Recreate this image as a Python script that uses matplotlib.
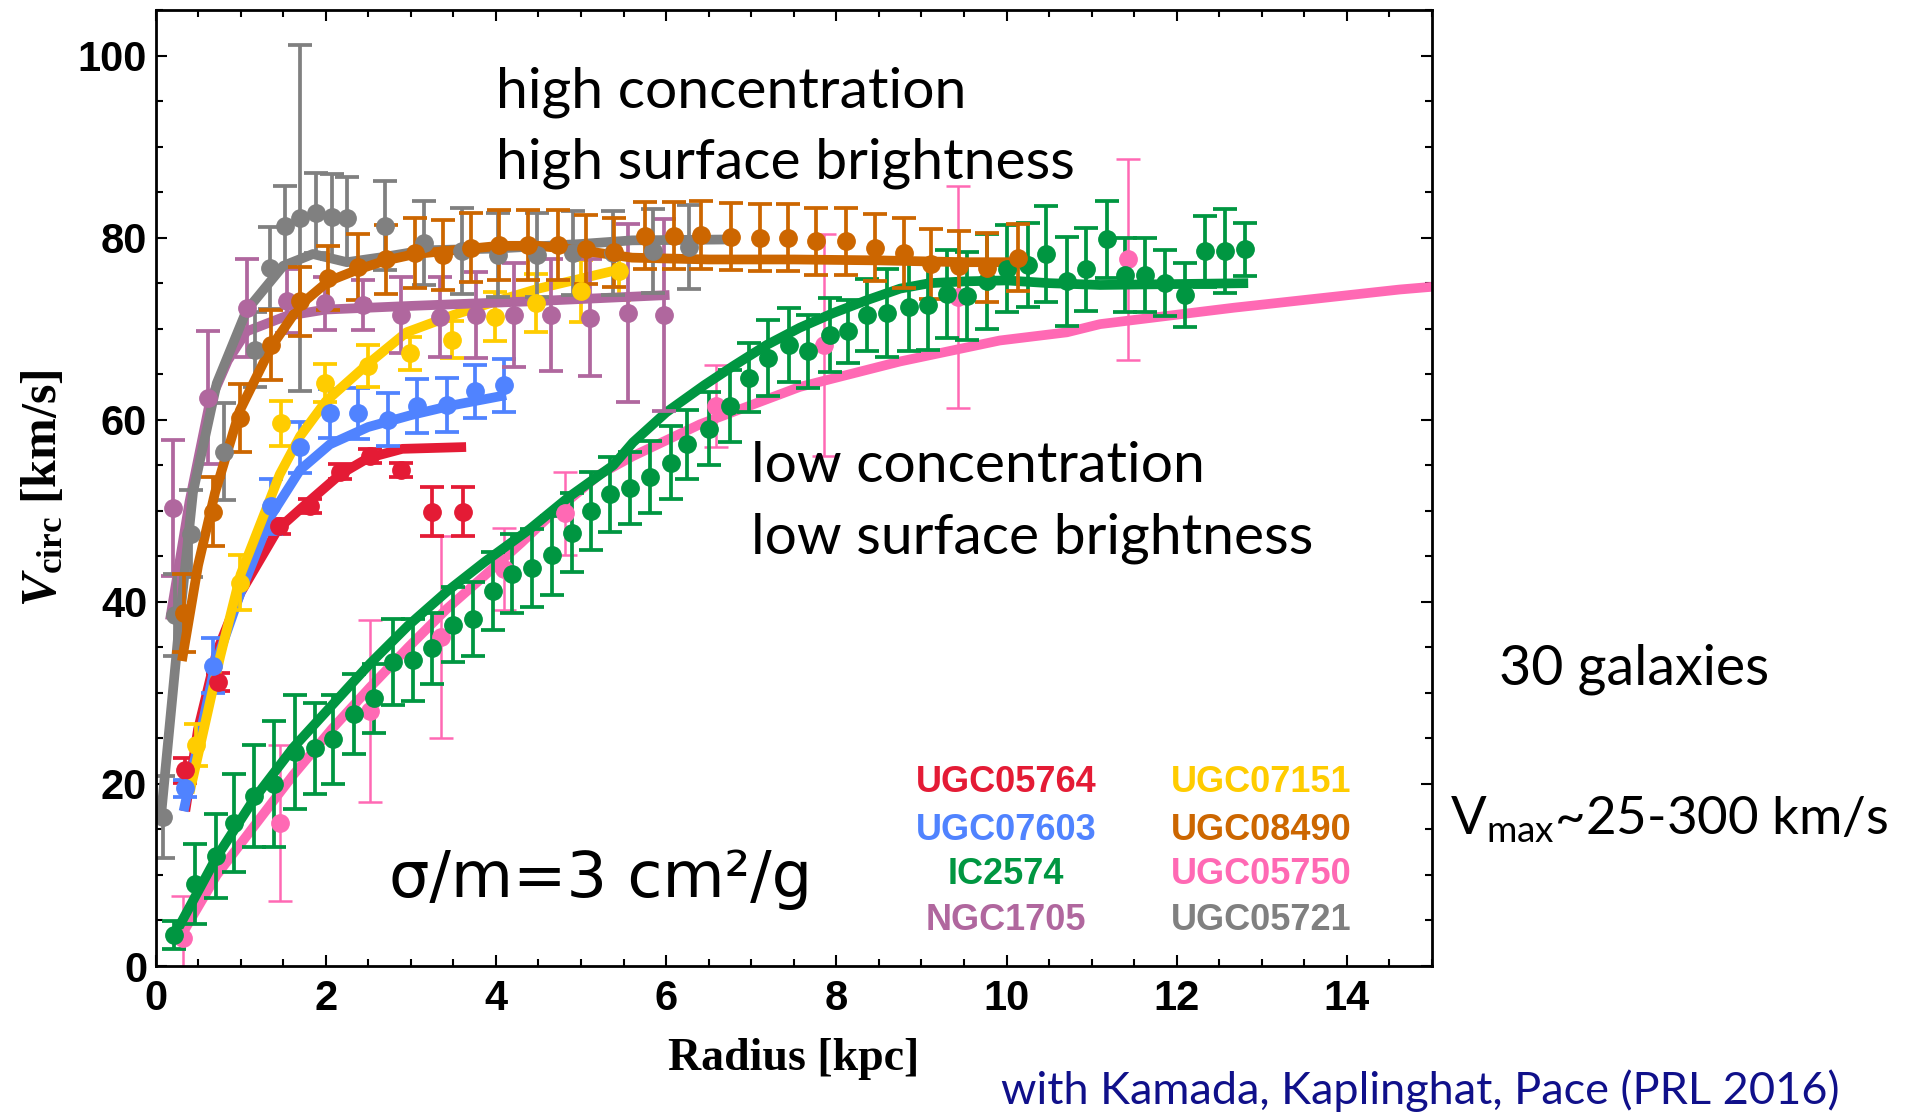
import matplotlib
matplotlib.use("Agg")
import matplotlib.pyplot as plt
from matplotlib.ticker import MultipleLocator

# ---------------- data ----------------
# UGC05764 (red)
r_u5764 = [0.35, 0.74, 1.45, 1.81, 2.17, 2.52, 2.89, 3.25, 3.61]
v_u5764 = [21.5, 31.2, 48.3, 50.5, 54.3, 56.0, 54.5, 49.9, 49.9]
e_u5764 = [1.4, 1.0, 0.8, 0.8, 0.8, 0.8, 0.8, 2.7, 2.7]
mr_u5764 = [0.35, 0.5, 0.72, 1.0, 1.44, 1.8, 2.17, 2.5, 2.9, 3.65]
mv_u5764 = [17, 26, 34.5, 41, 48, 51, 54, 55.8, 56.8, 57]

# UGC07603 (blue)
r_u7603 = [0.35, 0.68, 1.36, 1.70, 2.05, 2.38, 2.73, 3.07, 3.42, 3.75, 4.10]
v_u7603 = [19.5, 33.0, 50.5, 57.0, 60.7, 60.7, 60.0, 61.5, 61.6, 63.1, 63.8]
e_u7603 = [0.9, 3.0, 3.0, 2.8, 2.7, 2.8, 2.9, 3.0, 3.0, 2.9, 2.9]
mr_u7603 = [0.33, 0.7, 1.0, 1.36, 1.7, 2.05, 2.5, 3.0, 3.5, 4.12]
mv_u7603 = [17, 33, 41, 49.5, 54.5, 57.3, 59.2, 60.5, 61.6, 62.7]

# UGC07151 (yellow)
r_u7151 = [0.48, 0.99, 1.48, 1.99, 2.50, 2.99, 3.48, 3.99, 4.47, 5.00, 5.45]
v_u7151 = [24.3, 42.1, 59.6, 64.0, 65.9, 67.3, 68.8, 71.3, 72.8, 74.1, 76.3]
e_u7151 = [2.3, 3.0, 2.5, 2.1, 2.3, 1.8, 2.0, 2.7, 3.2, 3.4, 3.1]
mr_u7151 = [0.4, 0.76, 1.0, 1.46, 1.7, 2.0, 2.48, 2.95, 3.5, 4.0, 4.5, 5.0, 5.45]
mv_u7151 = [19, 34, 43, 54, 58.2, 62, 66, 69.6, 71.5, 73, 74.4, 75.5, 76.5]

# UGC08490 (orange)
r_u8490 = [0.33, 0.68, 0.99, 1.36, 1.70, 2.03, 2.38, 2.71, 3.05, 3.38, 3.71, 4.04, 4.38,
           4.73, 5.06, 5.39, 5.75, 6.09, 6.41, 6.76, 7.10, 7.43, 7.76, 8.11, 8.45, 8.79,
           9.11, 9.44, 9.77, 10.13]
v_u8490 = [38.8, 49.9, 60.2, 68.2, 73.0, 75.6, 76.8, 77.6, 78.3, 78.1, 78.9, 79.2, 79.2,
           79.2, 78.7, 78.4, 80.2, 80.2, 80.3, 80.1, 80.0, 80.0, 79.6, 79.6, 78.9, 78.3,
           77.1, 76.9, 76.7, 77.8]
e_u8490 = [4.3, 3.8, 3.7, 3.8, 3.8, 3.5, 3.6, 3.8, 3.8, 3.8, 3.8, 3.8, 3.8,
           3.8, 3.8, 3.8, 3.7, 3.7, 3.7, 3.7, 3.7, 3.7, 3.7, 3.7, 3.7, 3.8,
           3.8, 3.8, 3.8, 3.7]
mr_u8490 = [0.31, 0.5, 0.7, 0.99, 1.36, 1.7, 2.03, 2.38, 2.71, 3.05, 3.71, 4.04, 4.5,
            5.0, 5.6, 6.5, 7.5, 8.5, 9.5, 10.15]
mv_u8490 = [33.5, 44, 52, 61, 68, 72.6, 75.2, 76.5, 77.5, 78.2, 78.8, 79.1, 79.1,
            78.6, 77.8, 77.6, 77.6, 77.5, 77.3, 77.3]

# NGC1705 (purple)
r_n1705 = [0.21, 0.62, 1.07, 1.54, 1.99, 2.44, 2.88, 3.34, 3.77, 4.21, 4.65, 5.10, 5.55, 5.98]
v_n1705 = [50.3, 62.4, 72.3, 73.0, 72.8, 72.6, 71.5, 71.3, 71.5, 71.5, 71.5, 71.2, 71.7, 71.5]
e_n1705 = [7.5, 7.3, 5.4, 3.5, 2.9, 2.7, 4.2, 4.4, 4.7, 5.7, 6.1, 6.4, 9.8, 10.5]
mr_n1705 = [0.17, 0.4, 0.64, 0.85, 1.07, 1.54, 2.0, 3.0, 4.4, 6.04]
mv_n1705 = [38, 51, 62, 66.5, 69.7, 71.4, 72.1, 72.5, 73.0, 73.7]

# UGC05721 (gray)
r_u5721 = [0.09, 0.23, 0.42, 0.80, 1.17, 1.35, 1.52, 1.70, 1.89, 2.07, 2.25, 2.70, 3.16,
           3.60, 4.02, 4.48, 4.91, 5.38, 5.85, 6.27]
v_u5721 = [16.4, 38.6, 47.5, 56.5, 67.7, 76.7, 81.3, 82.2, 82.7, 82.3, 82.2, 81.3, 79.4,
           78.5, 78.1, 78.1, 78.3, 78.3, 78.5, 79.0]
e_u5721 = [4.5, 4.5, 4.8, 5.3, 4.1, 4.5, 4.4, 19.0, 4.4, 4.7, 4.5, 4.9, 4.6,
           4.7, 4.6, 4.6, 4.6, 4.6, 4.6, 4.6]
mr_u5721 = [0.07, 0.29, 0.44, 0.72, 1.07, 1.5, 1.85, 2.25, 2.7, 3.15, 4.0, 5.0, 5.6, 6.78]
mv_u5721 = [17, 38.5, 52, 64, 72, 76.9, 78.2, 77.3, 77.9, 78.6, 78.8, 79.3, 79.7, 79.8]

# IC2574 (green)
r_ic2574 = [0.22, 0.47, 0.71, 0.92, 1.16, 1.39, 1.64, 1.87, 2.09, 2.33, 2.57, 2.79, 3.02,
            3.25, 3.50, 3.73, 3.97, 4.19, 4.42, 4.66, 4.89, 5.12, 5.34, 5.58, 5.81, 6.06,
            6.25, 6.50, 6.75, 6.98, 7.20, 7.44, 7.67, 7.93, 8.14, 8.36, 8.59, 8.85, 9.08,
            9.30, 9.53, 9.77, 10.00, 10.25, 10.47, 10.71, 10.94, 11.18, 11.39, 11.63,
            11.86, 12.10, 12.33, 12.57, 12.80]
v_ic2574 = [3.4, 9.0, 12.1, 15.7, 18.7, 20.0, 23.5, 23.9, 24.9, 27.7, 29.4, 33.4, 33.6,
            34.9, 37.5, 38.1, 41.2, 43.1, 43.7, 45.1, 47.6, 50.0, 51.8, 52.5, 53.7, 55.3,
            57.3, 59.0, 61.5, 64.6, 66.8, 68.2, 67.5, 69.3, 69.7, 71.5, 71.7, 72.4, 72.6,
            73.8, 73.6, 75.2, 76.6, 77.0, 78.2, 75.2, 76.5, 79.8, 75.9, 75.9,
            75.0, 73.7, 78.5, 78.5, 78.7]
e_ic2574 = [1.5, 4.4, 4.6, 5.4, 5.6, 6.9, 6.3, 5.0, 4.9, 4.4, 3.8, 4.7, 4.5,
            3.9, 4.1, 4.1, 4.3, 4.3, 4.3, 4.3, 4.3, 4.3, 4.1, 4.0, 4.0, 4.0,
            3.8, 4.0, 4.0, 3.8, 4.2, 4.1, 4.0, 4.1, 3.5, 4.0, 4.8, 4.9, 4.9,
            4.8, 4.8, 5.2, 4.8, 4.6, 5.3, 4.9, 4.6, 4.2, 4.1, 4.1,
            3.6, 3.5, 3.9, 4.6, 2.9]
mr_ic2574 = [0.2, 0.72, 1.17, 1.62, 2.07, 2.52, 2.97, 3.42, 3.87, 4.4, 4.87, 5.38, 5.61,
             6.0, 6.45, 6.79, 7.18, 7.57, 7.96, 8.35, 8.75, 9.1, 9.53, 10.0, 10.5, 11.1,
             12.0, 12.84]
mv_ic2574 = [3, 12, 18.5, 24, 28.6, 33.2, 37.4, 41.1, 44.4, 48, 51.6, 55, 57.5,
             60.8, 63.8, 65.9, 68.2, 70.1, 71.7, 73.1, 74.4, 75.0, 75.2, 75.3, 75.0, 74.8,
             74.9, 75.0]

# UGC05750 (pink)
r_u5750 = [0.32, 1.46, 2.52, 3.35, 4.09, 4.81, 6.59, 7.85, 9.43, 11.43]
v_u5750 = [3.1, 15.7, 28.0, 36.1, 43.6, 49.7, 61.5, 68.2, 73.5, 77.6]
e_u5750 = [4.6, 8.6, 10.0, 11.1, 4.5, 4.6, 4.5, 12.2, 12.2, 11.0]
mr_u5750 = [0.25, 0.72, 1.17, 1.62, 2.07, 2.52, 2.97, 3.42, 3.87, 4.3, 4.64, 5.22, 5.61,
            6.4, 7.57, 8.75, 9.92, 10.71, 11.1, 12.67, 14.62, 15.0]
mv_u5750 = [2.5, 10, 15.5, 21, 26, 30.6, 35, 39.2, 42.9, 46.5, 49.5, 54, 56,
            59.5, 63.6, 66.4, 68.7, 69.6, 70.5, 72.3, 74.3, 74.6]

names_col1 = ["UGC05764", "UGC07603", "IC2574", "NGC1705"]
names_col2 = ["UGC07151", "UGC08490", "UGC05750", "UGC05721"]

x_ticks = [0, 2, 4, 6, 8, 10, 12, 14]
y_ticks = [0, 20, 40, 60, 80, 100]

# ---------------- style ----------------
C = {
    "UGC05764": "#E41B35",
    "UGC07603": "#5083FF",
    "UGC07151": "#FFCC00",
    "UGC08490": "#CC6600",
    "NGC1705": "#B0679E",
    "UGC05721": "#808080",
    "IC2574": "#009641",
    "UGC05750": "#FF69B4",
}

plt.rcParams["mathtext.fontset"] = "custom"
plt.rcParams["mathtext.it"] = "Liberation Serif:italic:bold"
plt.rcParams["mathtext.rm"] = "Liberation Serif:bold"
plt.rcParams["mathtext.bf"] = "Liberation Serif:bold"

fig = plt.figure(figsize=(19.19, 11.15), dpi=100)
ax = fig.add_axes([155.5 / 1919, 1 - 966 / 1115, (1432 - 155.5) / 1919, (966 - 10) / 1115])

series = [
    ("UGC05750", r_u5750, v_u5750, e_u5750, mr_u5750, mv_u5750, 1.8),
    ("IC2574", r_ic2574, v_ic2574, e_ic2574, mr_ic2574, mv_ic2574, 2.7),
    ("UGC05764", r_u5764, v_u5764, e_u5764, mr_u5764, mv_u5764, 2.7),
    ("UGC07603", r_u7603, v_u7603, e_u7603, mr_u7603, mv_u7603, 2.7),
    ("UGC07151", r_u7151, v_u7151, e_u7151, mr_u7151, mv_u7151, 2.7),
    ("NGC1705", r_n1705, v_n1705, e_n1705, mr_n1705, mv_n1705, 2.7),
    ("UGC05721", r_u5721, v_u5721, e_u5721, mr_u5721, mv_u5721, 2.7),
    ("UGC08490", r_u8490, v_u8490, e_u8490, mr_u8490, mv_u8490, 2.7),
]

for name, r, v, e, mr, mv, elw in series:
    col = C[name]
    ax.errorbar(r, v, yerr=e, fmt="o", color=col, ms=12.5, elinewidth=elw,
                capsize=8.5, capthick=elw, clip_on=True)
    ax.plot(mr, mv, "-", color=col, lw=7, solid_capstyle="butt")

ax.set_xlim(0, 15)
ax.set_ylim(0, 105)
ax.set_xticks(x_ticks)
ax.set_yticks(y_ticks)
ax.xaxis.set_minor_locator(MultipleLocator(0.5))
ax.yaxis.set_minor_locator(MultipleLocator(5))
ax.tick_params(which="both", direction="in", top=True, right=True, width=1.5)
ax.tick_params(which="major", length=8)
ax.tick_params(which="minor", length=5)
ax.tick_params(axis="x", which="major", pad=9)
ax.tick_params(axis="y", which="major", pad=6)
for s in ax.spines.values():
    s.set_linewidth(2)
for lab in ax.get_xticklabels() + ax.get_yticklabels():
    lab.set_fontfamily("Liberation Sans")
    lab.set_fontweight("bold")
    lab.set_fontsize(30)

ax.set_xlabel("Radius [kpc]", fontfamily="Liberation Serif", fontweight="bold",
              fontsize=33, labelpad=14)
ax.set_ylabel(r"$V_{\rm circ}$ [km/s]", fontfamily="Liberation Serif", fontweight="bold",
              fontsize=36, labelpad=8)

gs = "Lato"
fig.text(496 / 1919, 1 - 92 / 1115, "high concentration", fontsize=41,
         family=gs, va="center", ha="left")
fig.text(496 / 1919, 1 - 163 / 1115, "high surface brightness", fontsize=41,
         family=gs, va="center", ha="left")
fig.text(751 / 1919, 1 - 466 / 1115, "low concentration", fontsize=41,
         family=gs, va="center", ha="left")
fig.text(751 / 1919, 1 - 538 / 1115, "low surface brightness", fontsize=41,
         family=gs, va="center", ha="left")

fig.text(389 / 1919, 1 - 879 / 1115, "σ/m=3 cm²/g", fontsize=46, family="DejaVu Sans",
         va="center", ha="left")

rows_y = [783, 830, 875, 920]
for i, nm in enumerate(names_col1):
    fig.text(1006 / 1919, 1 - rows_y[i] / 1115, nm, color=C[nm], fontsize=26,
             family="Liberation Sans", fontweight="bold", ha="center", va="center")
for i, nm in enumerate(names_col2):
    fig.text(1261 / 1919, 1 - rows_y[i] / 1115, nm, color=C[nm], fontsize=26,
             family="Liberation Sans", fontweight="bold", ha="center", va="center")

fig.text(1634 / 1919, 1 - 669 / 1115, "30 galaxies", fontsize=40, family=gs,
         ha="center", va="center")
fig.text(1450 / 1919, 1 - 820 / 1115, r"$\mathregular{V_{max}}$~25-300 km/s",
         fontsize=38, family=gs, ha="left", va="center")
fig.text(1001 / 1919, 1 - 1091 / 1115, "with Kamada, Kaplinghat, Pace (PRL 2016)",
         fontsize=32.5, family=gs, color="#10108A", ha="left", va="center")

fig.savefig("out.png", dpi=100)
